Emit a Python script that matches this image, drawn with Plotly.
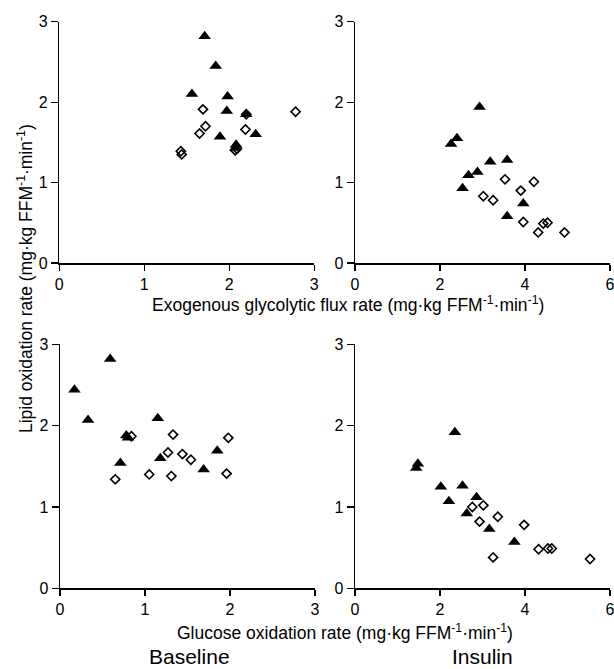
import plotly.graph_objects as go

# Panel A: Baseline, exogenous glycolytic flux vs lipid oxidation
a_tri_x = [1.71, 1.84, 1.56, 1.98, 1.97, 1.89, 2.08, 2.31, 2.20, 2.07]
a_tri_y = [2.82, 2.45, 2.10, 2.07, 1.89, 1.57, 1.47, 1.60, 1.85, 1.43]
a_dia_x = [1.69, 2.20, 1.72, 1.65, 2.19, 1.43, 1.44, 2.07, 2.09, 2.78]
a_dia_y = [1.91, 1.85, 1.70, 1.61, 1.66, 1.39, 1.35, 1.40, 1.42, 1.88]

# Panel B: Insulin, exogenous glycolytic flux vs lipid oxidation
b_tri_x = [2.26, 2.40, 2.93, 3.18, 3.58, 2.67, 2.88, 2.53, 3.96, 3.58]
b_tri_y = [1.48, 1.55, 1.94, 1.26, 1.28, 1.09, 1.13, 0.93, 0.74, 0.58]
b_dia_x = [3.53, 4.21, 3.90, 3.02, 3.25, 3.96, 4.43, 4.53, 4.31, 4.93]
b_dia_y = [1.04, 1.01, 0.90, 0.83, 0.78, 0.51, 0.49, 0.50, 0.38, 0.38]

# Panel C: Baseline, glucose oxidation vs lipid oxidation
c_tri_x = [0.17, 0.33, 0.59, 0.78, 0.80, 0.71, 1.15, 1.18, 1.69, 1.85]
c_tri_y = [2.44, 2.07, 2.82, 1.88, 1.85, 1.54, 2.09, 1.60, 1.46, 1.69]
c_dia_x = [0.84, 0.65, 1.05, 1.33, 1.27, 1.44, 1.54, 1.31, 1.98, 1.96]
c_dia_y = [1.87, 1.34, 1.40, 1.89, 1.67, 1.65, 1.58, 1.38, 1.85, 1.41]

# Panel D: Insulin, glucose oxidation vs lipid oxidation
d_tri_x = [1.44, 1.48, 2.35, 2.02, 2.53, 2.21, 2.86, 2.63, 3.16, 3.75]
d_tri_y = [1.48, 1.53, 1.92, 1.25, 1.26, 1.07, 1.12, 0.92, 0.73, 0.57]
d_dia_x = [2.76, 3.02, 3.36, 2.93, 3.98, 3.25, 4.32, 4.54, 4.63, 5.53]
d_dia_y = [1.00, 1.02, 0.88, 0.82, 0.78, 0.38, 0.48, 0.49, 0.49, 0.36]

x_title_top = "Exogenous glycolytic flux rate (mg\u00b7kg FFM<sup>-1</sup>\u00b7min<sup>-1</sup>)"
x_title_bottom = "Glucose oxidation rate (mg\u00b7kg FFM<sup>-1</sup>\u00b7min<sup>-1</sup>)"
y_title = "Lipid oxidation rate (mg\u00b7kg FFM<sup>-1</sup>\u00b7min<sup>-1</sup>)"
col_titles = ["Baseline", "Insulin"]

W, H = 614, 669
OFF = 0  # body margin removed below
FONT = "Liberation Sans, Arial, Helvetica, sans-serif"

fig = go.Figure()

panels = [
    (a_tri_x, a_tri_y, a_dia_x, a_dia_y, "x", "y"),
    (b_tri_x, b_tri_y, b_dia_x, b_dia_y, "x2", "y2"),
    (c_tri_x, c_tri_y, c_dia_x, c_dia_y, "x3", "y3"),
    (d_tri_x, d_tri_y, d_dia_x, d_dia_y, "x4", "y4"),
]
for tx, ty, dx, dy, xa, ya in panels:
    fig.add_trace(go.Scatter(
        x=tx, y=ty, mode="markers", xaxis=xa, yaxis=ya, cliponaxis=False,
        marker=dict(symbol="triangle-up", size=11, color="black", line=dict(width=0)),
        showlegend=False))
    fig.add_trace(go.Scatter(
        x=dx, y=dy, mode="markers", xaxis=xa, yaxis=ya, cliponaxis=False,
        marker=dict(symbol="diamond-open", size=7, color="black", line=dict(width=1.6, color="black")),
        showlegend=False))

def px_x(a, b):
    return [(a - OFF) / W, (b - OFF) / W]

def px_y(top, bottom):
    return [1 - (bottom - OFF) / H, 1 - (top - OFF) / H]

ax_common = dict(showline=True, linecolor="black", linewidth=1.5, ticks="outside",
                 tickwidth=1.2, tickcolor="black", showgrid=False, automargin=False,
                 zeroline=False, ticklabeloverflow="allow",
                 tickfont=dict(family=FONT, size=16, color="black"))
xa_common = dict(ticklen=6, **ax_common)
ya_common = dict(ticklen=7, **ax_common)

layout_axes = {
    "xaxis": dict(domain=px_x(59.3, 314.3), range=[0, 3], dtick=1, anchor="y", **xa_common),
    "yaxis": dict(domain=px_y(21.7, 263), range=[0, 3], dtick=1, anchor="x", **ya_common),
    "xaxis2": dict(domain=px_x(355, 610), range=[0, 6], dtick=2, anchor="y2", **xa_common),
    "yaxis2": dict(domain=px_y(21.7, 263), range=[0, 3], dtick=1, anchor="x2", **ya_common),
    "xaxis3": dict(domain=px_x(60, 315), range=[0, 3], dtick=1, anchor="y3", **xa_common),
    "yaxis3": dict(domain=px_y(344.3, 588.3), range=[0, 3], dtick=1, anchor="x3", **ya_common),
    "xaxis4": dict(domain=px_x(355, 610), range=[0, 6], dtick=2, anchor="y4", **xa_common),
    "yaxis4": dict(domain=px_y(344.3, 588.3), range=[0, 3], dtick=1, anchor="x4", **ya_common),
}

def ann(text, x, y, size, angle=0):
    return dict(text=text, x=(x - OFF) / W, y=1 - (y - OFF) / H, xref="paper", yref="paper",
                xanchor="center", yanchor="middle", showarrow=False, textangle=angle,
                font=dict(family=FONT, size=size, color="black"))

annotations = [
    ann(x_title_top, 348, 304, 17.5),
    ann(x_title_bottom, 345, 632, 17.5),
    ann(y_title, 25, 279, 17.5, -90),
    ann(col_titles[0], 189, 656, 21),
    ann(col_titles[1], 482, 656, 21),
]

fig.update_layout(
    width=W, height=H, margin=dict(l=0, r=0, t=0, b=0),
    paper_bgcolor="white", plot_bgcolor="white",
    annotations=annotations,
    font=dict(family=FONT, color="black"),
    hovermode=False,
    **layout_axes,
)

fig.write_html("out.html",
               config={"displayModeBar": False, "staticPlot": True},
               post_script="document.body.style.margin='0';document.body.style.overflow='hidden';")
